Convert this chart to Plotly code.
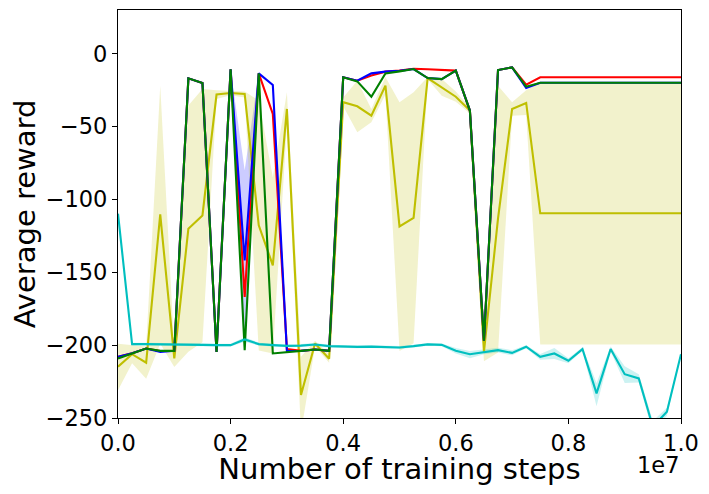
import plotly.graph_objects as go

# ---- data (training steps; 41 evaluation points) ----
steps = [i * 250000 for i in range(41)]

red_mean = [-208.0, -205.5, -202.3, -204.0, -203.9, -16.9, -20.1, -204.6, -10.7, -166.9,
            -13.5, -41.3, -202.7, -203.9, -203.0, -203.9, -16.2, -18.5, -15.0, -12.3,
            -11.5, -10.3, -10.7, -11.0, -11.6, -39.0, -197.0, -11.2, -9.4, -21.2,
            -16.2, -16.2, -16.2, -16.2, -16.2, -16.2, -16.2, -16.2, -16.2, -16.2, -16.2]

blue_mean = [-208.0, -205.5, -202.3, -204.6, -203.9, -16.9, -20.1, -204.6, -10.7, -141.8,
             -13.5, -21.5, -204.0, -203.9, -203.0, -203.9, -16.2, -18.5, -13.5, -12.3,
             -11.8, -10.5, -16.7, -17.4, -11.6, -39.0, -197.0, -11.2, -9.4, -23.5,
             -19.9, -19.9, -19.9, -19.9, -19.9, -19.9, -19.9, -19.9, -19.9, -19.9, -19.9]
blue_hi = list(blue_mean)
blue_lo = list(blue_mean)
blue_hi[9] = -80.0
blue_lo[9] = -204.0

green_mean = [-209.1, -205.7, -202.3, -203.9, -203.9, -16.9, -20.1, -204.6, -10.7, -203.4,
              -13.5, -205.7, -204.6, -203.9, -203.0, -203.9, -16.2, -19.0, -29.5, -13.5,
              -12.1, -10.5, -16.7, -17.4, -11.6, -39.0, -197.0, -11.2, -9.4, -22.6,
              -19.9, -19.9, -19.9, -19.9, -19.9, -19.9, -19.9, -19.9, -19.9, -19.9, -19.9]

yellow_mean = [-214.8, -206.2, -212.1, -110.3, -209.1, -120.1, -111.0, -28.0, -27.0, -27.6,
               -117.8, -145.2, -37.9, -234.2, -198.9, -209.3, -33.3, -36.1, -42.5, -21.9,
               -118.5, -112.6, -16.7, -23.0, -29.5, -39.0, -204.6, -113.0, -37.9, -33.8,
               -109.5, -109.5, -109.5, -109.5, -109.5, -109.5, -109.5, -109.5, -109.5, -109.5, -109.5]
yellow_hi = [-199.0, -200.0, -201.0, -22.0, -203.0, -35.6, -24.2, -25.0, -25.5, -26.0,
             -32.0, -84.7, -26.5, -208.0, -197.0, -206.0, -30.0, -18.5, -38.0, -16.0,
             -33.3, -26.5, -16.0, -17.4, -26.0, -37.0, -198.0, -22.0, -33.3, -25.0,
             -19.9, -19.9, -19.9, -19.9, -19.9, -19.9, -19.9, -19.9, -19.9, -19.9, -19.9]
yellow_lo = [-231.0, -212.5, -223.0, -199.0, -215.0, -204.6, -198.0, -31.0, -28.5, -30.0,
             -203.6, -205.7, -49.0, -260.0, -201.0, -212.0, -36.0, -53.9, -47.0, -28.0,
             -204.0, -198.7, -17.5, -28.8, -33.0, -41.0, -211.0, -205.0, -42.5, -42.0,
             -199.5, -199.5, -199.5, -199.5, -199.5, -199.5, -199.5, -199.5, -199.5, -199.5, -199.5]

cyan_mean = [-109.8, -199.3, -199.3, -199.3, -199.5, -199.5, -199.8, -200.0, -200.0, -196.1,
             -199.3, -200.0, -200.5, -200.3, -199.6, -200.7, -201.0, -201.2, -201.0, -201.1,
             -201.6, -200.7, -199.5, -199.8, -203.9, -206.2, -204.6, -203.4, -205.3, -201.1,
             -208.0, -205.7, -210.7, -202.7, -233.1, -202.7, -219.9, -222.8, -256.0, -245.7, -206.2]
cyan_hi = [-109.0, -198.3, -198.3, -198.3, -198.5, -198.5, -198.8, -199.0, -199.0, -194.5,
           -198.3, -199.0, -199.5, -199.3, -198.6, -199.7, -200.0, -200.2, -200.0, -200.1,
           -200.6, -199.7, -198.5, -198.8, -202.0, -204.0, -203.0, -201.8, -203.5, -200.0,
           -206.0, -202.0, -209.0, -201.5, -226.0, -201.0, -214.5, -220.0, -252.0, -243.0, -205.0]
cyan_lo = [-110.6, -200.3, -200.3, -200.3, -200.5, -200.5, -200.8, -201.0, -201.0, -197.7,
           -200.3, -201.0, -201.5, -201.3, -200.6, -201.7, -202.0, -202.2, -202.0, -202.1,
           -202.6, -201.7, -200.5, -200.8, -205.8, -209.0, -206.2, -205.0, -207.0, -202.2,
           -210.0, -209.5, -212.4, -203.9, -242.0, -204.4, -226.0, -225.6, -260.0, -248.4, -207.4]

x_tickvals = [0, 2000000, 4000000, 6000000, 8000000, 10000000]
x_ticktext = ["0.0", "0.2", "0.4", "0.6", "0.8", "1.0"]
y_tickvals = [0, -50, -100, -150, -200, -250]
y_ticktext = ["0", "\u221250", "\u2212100", "\u2212150", "\u2212200", "\u2212250"]

FONT = "DejaVu Sans"

fig = go.Figure()


def add_band(lo, hi, rgba):
    fig.add_trace(go.Scatter(x=steps, y=hi, mode="lines", line=dict(width=0),
                             hoverinfo="skip", showlegend=False))
    fig.add_trace(go.Scatter(x=steps, y=lo, mode="lines", line=dict(width=0),
                             fill="tonexty", fillcolor=rgba,
                             hoverinfo="skip", showlegend=False))


add_band(blue_lo, blue_hi, "rgba(0,0,255,0.2)")
add_band(yellow_lo, yellow_hi, "rgba(191,191,0,0.2)")
add_band(cyan_lo, cyan_hi, "rgba(0,191,191,0.2)")


def add_line(y, color):
    fig.add_trace(go.Scatter(x=steps, y=y, mode="lines",
                             line=dict(color=color, width=2.1),
                             showlegend=False))


add_line(yellow_mean, "#bfbf00")
add_line(red_mean, "#ff0000")
add_line(blue_mean, "#0000ff")
add_line(green_mean, "#008000")
add_line(cyan_mean, "#00bfbf")

axis_common = dict(showline=True, linecolor="black", linewidth=1.1, mirror=True,
                   ticks="outside", ticklen=5, tickwidth=1, tickcolor="black",
                   showgrid=False, zeroline=False,
                   tickfont=dict(family=FONT, size=22.5, color="black"))

fig.update_xaxes(range=[0, 10000000], tickvals=x_tickvals, ticktext=x_ticktext,
                 title=dict(text="Number of training steps",
                            font=dict(family=FONT, size=29, color="black"), standoff=4),
                 **axis_common)
fig.update_yaxes(range=[-250, 30], tickvals=y_tickvals, ticktext=y_ticktext,
                 title=dict(text="Average reward",
                            font=dict(family=FONT, size=29, color="black"), standoff=10),
                 **axis_common)

fig.add_annotation(text="1e7", xref="paper", yref="paper", x=0.959, y=-0.078,
                   xanchor="center", yanchor="top", showarrow=False,
                   font=dict(family=FONT, size=22.5, color="black"))

# the page shows the figure 8 px in from the top-left corner of the window
fig.update_layout(width=693, height=478,
                  margin=dict(l=110, r=20, t=2, b=68),
                  paper_bgcolor="white", plot_bgcolor="white",
                  showlegend=False)

fig.write_html("out.html")
